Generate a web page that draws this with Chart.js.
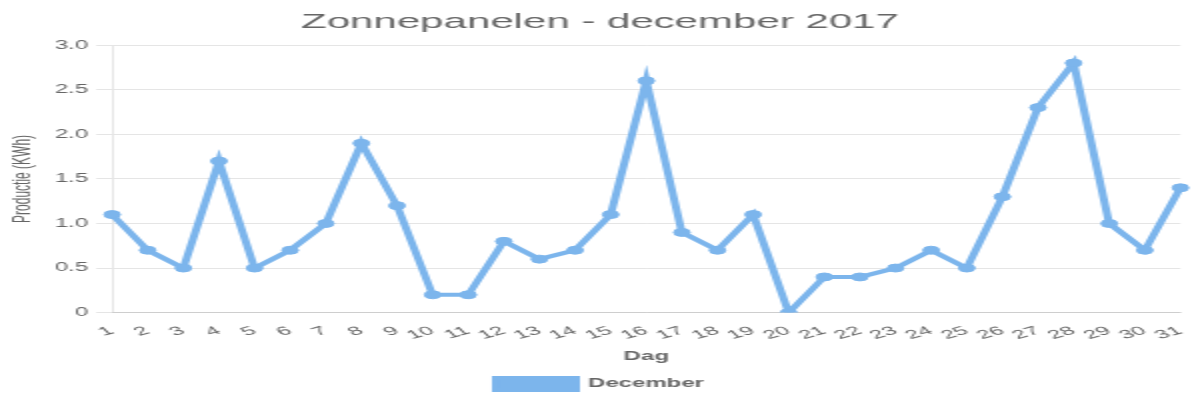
<!DOCTYPE html>
<html>
<head>
<meta charset="utf-8">
<script src="https://cdn.jsdelivr.net/npm/chart.js@4"></script>
<style>
html,body{margin:0;padding:0;background:#fff;overflow:hidden;}
#c{display:block;width:1200px;height:400px;}
</style>
</head>
<body>
<canvas id="c" width="600" height="400" style="width:1200px;height:400px;"></canvas>
<script>
const days = ['1','2','3','4','5','6','7','8','9','10','11','12','13','14','15','16','17','18','19','20','21','22','23','24','25','26','27','28','29','30','31'];
const production = [1.1,0.7,0.5,1.7,0.5,0.7,1.0,1.9,1.2,0.2,0.2,0.8,0.6,0.7,1.1,2.6,0.9,0.7,1.1,0,0.4,0.4,0.5,0.7,0.5,1.3,2.3,2.8,1.0,0.7,1.4];
const seriesName = 'December';
const titleText = 'Zonnepanelen - december 2017';
const xTitle = 'Dag';
const yTitle = 'Productie (KWh)';

const blue = 'rgb(124,181,236)';
const family = "'Liberation Sans', Arial, Helvetica, sans-serif";
Chart.defaults.font.family = family;
Chart.defaults.color = '#666';

new Chart(document.getElementById('c'), {
  type: 'line',
  data: {
    labels: days,
    datasets: [{
      label: seriesName,
      data: production,
      borderColor: blue,
      backgroundColor: blue,
      borderWidth: 4,
      pointRadius: 4,
      pointBackgroundColor: blue,
      pointBorderColor: blue,
      pointBorderWidth: 1,
      tension: 0,
      fill: false
    }]
  },
  options: {
    responsive: false,
    devicePixelRatio: 1,
    animation: false,
    plugins: {
      title: { display: true, text: titleText, font: { size: 21, weight: 'normal' }, color: '#666', padding: 10 },
      legend: { position: 'bottom', labels: { boxWidth: 40, boxHeight: 12, font: { size: 12, weight: 'bold' }, color: '#666' } },
      tooltip: { enabled: false }
    },
    scales: {
      x: {
        grid: { display: false },
        border: { display: true, color: 'rgba(0,0,0,0.1)' },
        ticks: { minRotation: 28, maxRotation: 28, autoSkip: false, font: { size: 12 }, color: '#666' },
        title: { display: true, text: xTitle, font: { size: 12, weight: 'bold' }, color: '#666' }
      },
      y: {
        min: 0, max: 3,
        grid: { color: 'rgba(0,0,0,0.1)' },
        border: { display: true, color: 'rgba(0,0,0,0.1)' },
        ticks: { stepSize: 0.5, padding: 4, font: { size: 12 }, color: '#666', callback: v => v === 0 ? '0' : v.toFixed(1) },
        title: { display: true, text: yTitle, font: { size: 12 }, color: '#666', padding: { top: 4, bottom: 5 } }
      }
    }
  }
});
</script>
</body>
</html>
